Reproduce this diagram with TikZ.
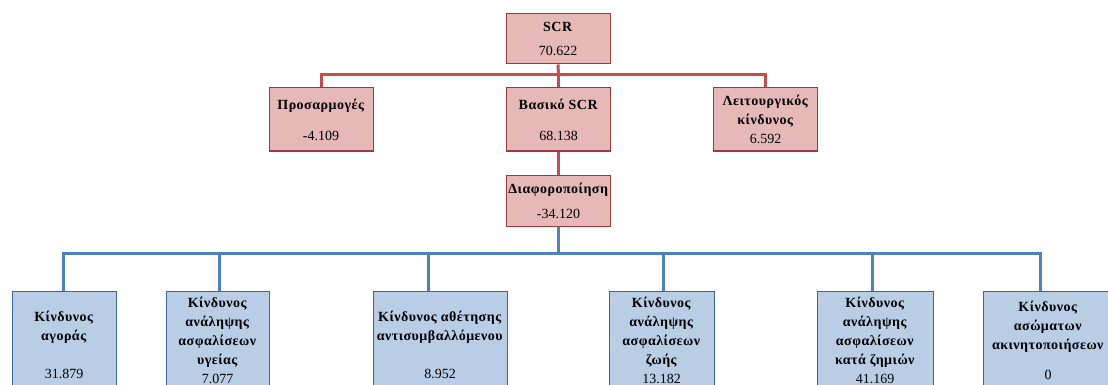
\documentclass[tikz,border=0pt]{standalone}
\usepackage{fontspec}
\setmainfont{Liberation Serif}[BoldFeatures={LetterSpace=3.5}]
\usepackage{xcolor}
\usetikzlibrary{positioning}

\definecolor{redfill}{HTML}{E6B9B8}
\definecolor{redborder}{HTML}{9B3B39}
\definecolor{redline}{HTML}{C0504D}
\definecolor{bluefill}{HTML}{B9CDE5}
\definecolor{blueborder}{HTML}{3E669A}
\definecolor{blueline}{HTML}{4F81BD}

\tikzset{
  redbox/.style={draw=redborder, fill=redfill, line width=1pt,
    inner sep=0pt, align=center, minimum width=104pt,
    font=\fontsize{14}{19}\selectfont},
  bluebox/.style={draw=blueborder, fill=bluefill, line width=1pt,
    inner sep=0pt, align=center, anchor=north, minimum height=98pt,
    font=\fontsize{14}{19}\selectfont},
  redlink/.style={draw=redline, line width=3pt},
  bluelink/.style={draw=blueline, line width=3pt}
}

\begin{document}
\begin{tikzpicture}[x=1pt, y=-1pt]

    \useasboundingbox (0, 0) rectangle (1108, 385);

    \node [redbox, minimum height=50pt] (scr) at (558, 39)
      {\textbf{SCR}\\[5pt]70.622};
    \node [redbox, minimum height=63pt] (adj) at (321, 119.5)
      {\textbf{Προσαρμογές}\\[12pt]-4.109};
    \node [redbox, minimum height=63pt] (bscr) at (558.5, 119.5)
      {\textbf{Βασικό SCR}\\[12pt]68.138};
    \node [redbox, minimum height=63pt] (oper) at (765.5, 119.5)
      {\textbf{Λειτουργικός}\\\textbf{κίνδυνος}\\6.592};
    \node [redbox, minimum height=51pt] (div) at (558.5, 200.5)
      {\textbf{Διαφοροποίηση}\\[6pt]-34.120};

    \node [bluebox, minimum width=104pt] (mkt) at (64, 291)
      {\mbox{}\\\textbf{Κίνδυνος}\\\textbf{αγοράς}\\\mbox{}\\31.879};
    \node [bluebox, minimum width=103pt] (hlth) at (217.5, 291)
      {\textbf{Κίνδυνος}\\\textbf{ανάληψης}\\\textbf{ασφαλίσεων}\\\textbf{υγείας}\\7.077};
    \node [bluebox, minimum width=134pt] (cpty) at (440, 291)
      {\mbox{}\\\textbf{Κίνδυνος αθέτησης}\\\textbf{αντισυμβαλλόμενου}\\\mbox{}\\8.952};
    \node [bluebox, minimum width=105pt] (life) at (661.5, 291)
      {\textbf{Κίνδυνος}\\\textbf{ανάληψης}\\\textbf{ασφαλίσεων}\\\textbf{ζωής}\\13.182};
    \node [bluebox, minimum width=116pt] (nlife) at (875, 291)
      {\textbf{Κίνδυνος}\\\textbf{ανάληψης}\\\textbf{ασφαλίσεων}\\\textbf{κατά ζημιών}\\41.169};
    \node [bluebox, minimum width=130pt] (intg) at (1048, 291)
      {\textbf{Κίνδυνος}\\\textbf{ασώματων}\\\textbf{ακινητοποιήσεων}\\[11pt]0};

    \coordinate (topbus) at (558.5, 75);
    \coordinate (lowbus) at (558.5, 253);

    \draw [redlink] (scr.south) -- (topbus);
    \draw [redlink] (topbus) -| (adj.north);
    \draw [redlink] (topbus) -- (bscr.north);
    \draw [redlink] (topbus) -| (oper.north);
    \draw [redlink] (bscr.south) -- (div.north);

    \draw [bluelink] (div.south) -- (lowbus);
    \draw [bluelink] (lowbus) -| ([xshift=-1pt]mkt.north);
    \draw [bluelink] (lowbus) -| ([xshift=1.5pt]hlth.north);
    \draw [bluelink] (lowbus) -| ([xshift=-12pt]cpty.north);
    \draw [bluelink] (lowbus) -| ([xshift=1.5pt]life.north);
    \draw [bluelink] (lowbus) -| ([xshift=-3pt]nlife.north);
    \draw [bluelink] (lowbus) -| ([xshift=-8pt]intg.north);

  \end{tikzpicture}
\end{document}
